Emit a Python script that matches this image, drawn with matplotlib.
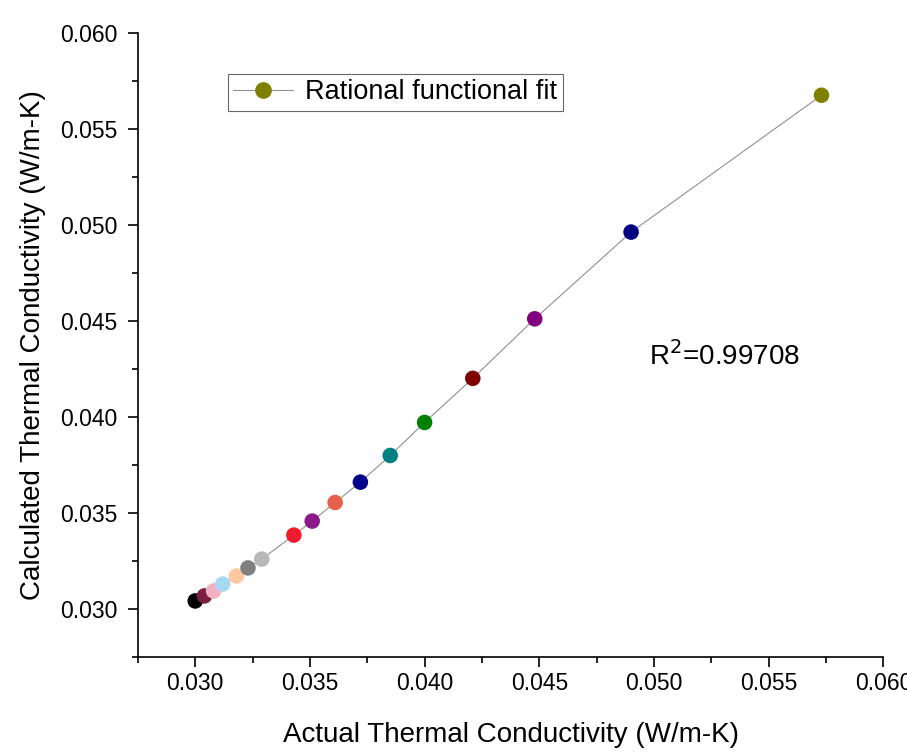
import matplotlib
matplotlib.use("Agg")
import matplotlib.pyplot as plt
from matplotlib.ticker import MultipleLocator, FormatStrFormatter

plt.rcParams['font.family'] = ['Liberation Sans', 'DejaVu Sans']

actual = [0.0300, 0.0304, 0.0308, 0.0312, 0.0318, 0.0323, 0.0329, 0.0343, 0.0351,
          0.0361, 0.0372, 0.0385, 0.0400, 0.0421, 0.0448, 0.0490, 0.0573]
calculated = [0.03042, 0.03068, 0.03094, 0.0313, 0.03172, 0.03214, 0.0326, 0.03385, 0.03458,
              0.03555, 0.03661, 0.03800, 0.03972, 0.04202, 0.04512, 0.04964, 0.05677]
colors = ['#000000', '#7a1f40', '#f2b0c4', '#a8d8f0', '#ffc8a0', '#808080', '#b8b8b8',
          '#ee1c2e', '#8b1a8b', '#e8604a', '#00008b', '#008080', '#008000', '#800000',
          '#800080', '#000080', '#808000']
r2_text = 'R$^2$=0.99708'

fig = plt.figure(figsize=(9.07, 7.56), dpi=100)
ax = fig.add_axes([0.152, 0.131, 0.822, 0.825])

ax.plot(actual, calculated, color='#909090', lw=0.8, zorder=1)
ax.scatter(actual, calculated, c=colors, s=125, zorder=2, edgecolors='none')

# legend entry: gray line with olive marker
ax.plot([], [], color='#909090', lw=0.8, marker='o', markersize=11,
        markerfacecolor='#808000', markeredgecolor='#808000', label='Rational functional fit')
leg = ax.legend(loc='upper left', bbox_to_anchor=(0.121, 0.935), fontsize=19.5, frameon=True,
                fancybox=False, edgecolor='#404040', handlelength=2.2, borderpad=0.2,
                handletextpad=0.45, borderaxespad=0)
leg.get_frame().set_linewidth(0.8)

ax.text(0.0498, 0.0427, r2_text, fontsize=20)

ax.set_xlim(0.0275, 0.060)
ax.set_ylim(0.0275, 0.060)
ax.xaxis.set_major_locator(MultipleLocator(0.005))
ax.xaxis.set_minor_locator(MultipleLocator(0.0025))
ax.yaxis.set_major_locator(MultipleLocator(0.005))
ax.yaxis.set_minor_locator(MultipleLocator(0.0025))
ax.xaxis.set_major_formatter(FormatStrFormatter('%.3f'))
ax.yaxis.set_major_formatter(FormatStrFormatter('%.3f'))
ax.tick_params(which='major', direction='out', length=7, width=1.2, labelsize=16.5)
ax.tick_params(axis='y', which='major', pad=8)
ax.tick_params(which='minor', direction='out', length=4, width=1.2)
ax.spines['top'].set_visible(False)
ax.spines['right'].set_visible(False)
ax.spines['left'].set_linewidth(1.2)
ax.spines['bottom'].set_linewidth(1.2)

ax.set_xlabel('Actual Thermal Conductivity (W/m-K)', fontsize=20, labelpad=20)
ax.set_ylabel('Calculated Thermal Conductivity (W/m-K)', fontsize=20, labelpad=10)

fig.savefig('out.png', dpi=100)
